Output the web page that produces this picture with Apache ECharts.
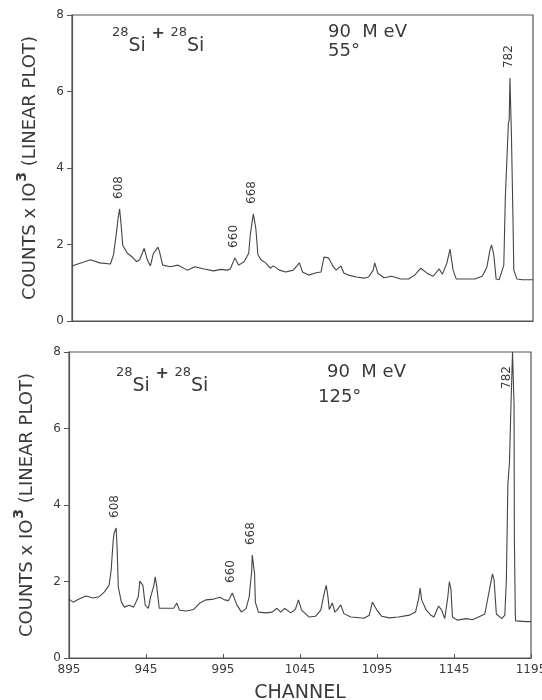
<!DOCTYPE html>
<html>
<head>
<meta charset="utf-8">
<script src="https://cdn.jsdelivr.net/npm/echarts@6/dist/echarts.min.js"></script>
<style>
  html, body { margin: 0; padding: 0; background: #fff; }
  #main { width: 542px; height: 700px; }
</style>
</head>
<body>
<div id="main"></div>
<script>
// gamma spectra, 28Si + 28Si at 90 MeV, counts in thousands
const TOP_CH = [895, 907, 913, 920, 922, 924, 925, 926, 927, 928, 931, 934, 937, 939, 942, 944, 946, 948, 951, 952, 954, 959, 964, 970, 975, 981, 987, 992, 996,
  998, 1001, 1003.5, 1007, 1010, 1011, 1013, 1014.6, 1016, 1018, 1021, 1024, 1026, 1030, 1034, 1039, 1043, 1045, 1049, 1054, 1057, 1059, 1062, 1065, 1067, 1070, 1072, 1075, 1080, 1085, 1088, 1091, 1092, 1094, 1098,
  1103, 1109, 1114, 1118, 1122, 1126, 1130, 1134, 1136, 1139, 1141, 1142, 1143, 1145, 1151, 1157, 1162, 1165, 1167, 1168, 1169.5, 1171, 1173, 1176, 1177, 1179, 1179.5, 1180, 1181, 1182, 1182.5, 1184.5, 1188, 1195]
const TOP_CNT = [1.44, 1.6, 1.52, 1.49, 1.73, 2.33, 2.69, 2.93, 2.5, 1.98, 1.77, 1.68, 1.55, 1.6, 1.9, 1.6, 1.44, 1.77, 1.93, 1.8, 1.46, 1.42, 1.46, 1.33, 1.42, 1.36, 1.31, 1.35, 1.33,
  1.36, 1.65, 1.46, 1.55, 1.77, 2.25, 2.8, 2.43, 1.73, 1.6, 1.52, 1.38, 1.44, 1.33, 1.28, 1.33, 1.52, 1.28, 1.2, 1.26, 1.28, 1.67, 1.65, 1.42, 1.33, 1.44, 1.25, 1.2, 1.15, 1.12, 1.15, 1.33, 1.52, 1.25, 1.13,
  1.17, 1.1, 1.1, 1.2, 1.38, 1.25, 1.17, 1.36, 1.22, 1.52, 1.88, 1.83, 1.33, 1.1, 1.1, 1.1, 1.17, 1.41, 1.86, 1.99, 1.73, 1.1, 1.08, 1.46, 3.24, 5.18, 5.26, 6.35, 4.8, 2.6, 1.33, 1.1, 1.08, 1.08]

const BOT_CH = [895, 897.6, 901.5, 906, 910.6, 914.5, 918, 921, 922.4, 923.7, 924.3, 925.6, 926.3, 927, 929, 931, 934, 937, 940, 941, 943, 944.5, 946.5, 948, 950, 951, 952, 953.6, 958, 963, 965, 966.7, 971, 976, 980, 984, 989, 993, 996,
  998.6, 1001, 1004, 1007, 1010, 1012, 1013.6, 1014, 1015.5, 1016, 1018, 1023, 1027, 1030, 1032.5, 1035, 1039, 1042, 1044, 1046, 1051, 1055, 1058.5, 1060.5, 1062, 1063, 1064, 1066, 1067.6, 1069, 1071.5, 1073.5, 1078, 1082, 1086.5, 1090, 1092, 1095, 1098,
  1103, 1109, 1116, 1120, 1122, 1123, 1124, 1127, 1130, 1132, 1135, 1137, 1139, 1141, 1142, 1143, 1144, 1147, 1153, 1157, 1161, 1165, 1168, 1170, 1171, 1172.5, 1176, 1178, 1179, 1180, 1181, 1182, 1183, 1184, 1184.2, 1184.5, 1184.8, 1185, 1192, 1195]
const BOT_CNT = [1.54, 1.46, 1.54, 1.62, 1.57, 1.6, 1.73, 1.9, 2.3, 3.08, 3.26, 3.4, 2.82, 1.86, 1.46, 1.33, 1.38, 1.33, 1.6, 2.01, 1.9, 1.38, 1.3, 1.6, 1.88, 2.12, 1.86, 1.3, 1.3, 1.3, 1.44, 1.25, 1.23, 1.27, 1.44, 1.52, 1.54, 1.59, 1.52,
  1.5, 1.7, 1.39, 1.2, 1.29, 1.6, 2.25, 2.69, 2.2, 1.46, 1.2, 1.18, 1.2, 1.3, 1.2, 1.3, 1.18, 1.27, 1.52, 1.25, 1.07, 1.09, 1.25, 1.65, 1.9, 1.65, 1.27, 1.44, 1.2, 1.25, 1.39, 1.16, 1.07, 1.06, 1.04, 1.12, 1.46, 1.25, 1.09,
  1.05, 1.07, 1.12, 1.2, 1.54, 1.83, 1.52, 1.25, 1.12, 1.07, 1.36, 1.25, 1.03, 1.6, 2.0, 1.8, 1.07, 0.99, 1.03, 1.0, 1.07, 1.15, 1.78, 2.2, 2.05, 1.15, 1.03, 1.12, 2.04, 4.56, 5.1, 6.6, 8, 6.6, 3.14, 3.1, 1.17, 0.97, 0.95, 0.95]

// peak labels (energies in keV)
const PEAK_NAMES = ['608', '660', '668', '782']
const TOP_PEAK_CH = [926, 1001, 1013, 1180]
const TOP_PEAK_CNT = [2.93, 1.65, 2.8, 6.35]
const BOT_PEAK_CH = [925.6, 1001, 1014, 1183]
const BOT_PEAK_CNT = [3.4, 1.7, 2.69, 8]

const X_TICKS = [895, 945, 995, 1045, 1095, 1145, 1195]
const Y_TICKS = [0, 2, 4, 6, 8]

const FONT = 'DejaVu Sans'
const INK = '#3a3a3a'

function pairs(xs, ys) {
    return xs.map((x, i) => [x, ys[i]])
}

const myChart = echarts.init(document.querySelector('#main'))

const yTitle = {
    formatter: '{a|COUNTS x IO}{s|3}{a| (LINEAR PLOT)}',
    rich: {
        a: { fontFamily: FONT, fontSize: 18, color: INK, verticalAlign: 'bottom' },
        s: { fontFamily: FONT, fontSize: 14, fontWeight: 'bold', color: INK, verticalAlign: 'top', padding: [0, 0, 10, 1] }
    }
}

function yAxisFor(idx) {
    return {
        gridIndex: idx,
        type: 'value',
        min: 0,
        max: 8,
        interval: 2,
        name: yTitle.formatter,
        nameLocation: 'middle',
        nameGap: 33,
        nameRotate: 90,
        nameTextStyle: { rich: yTitle.rich },
        axisLine: { show: true, lineStyle: { color: '#555', width: 1.2 } },
        axisTick: { show: true, inside: false, length: 5, lineStyle: { color: '#555' } },
        axisLabel: { margin: 8, fontFamily: FONT, fontSize: 12, color: INK,
            customValues: Y_TICKS },
        splitLine: { show: false }
    }
}

const option = {
    backgroundColor: '#fff',
    animation: false,
    grid: [
        { left: 72, right: 9, top: 15, height: 306, show: true, borderColor: '#555', borderWidth: 1.2, outerBoundsMode: 'none' },
        { left: 69, right: 11, top: 352, height: 306, show: true, borderColor: '#555', borderWidth: 1.2, outerBoundsMode: 'none' }
    ],
    xAxis: [
        {
            gridIndex: 0, type: 'value', min: 895, max: 1195,
            axisLine: { show: true, lineStyle: { color: '#555', width: 1.2 } },
            axisTick: { show: false }, axisLabel: { show: false }, splitLine: { show: false }
        },
        {
            gridIndex: 1, type: 'value', min: 895, max: 1195,
            name: 'CHANNEL', nameLocation: 'middle', nameGap: 26,
            nameTextStyle: { fontFamily: FONT, fontSize: 19, color: INK },
            axisLine: { show: true, lineStyle: { color: '#555', width: 1.2 } },
            axisTick: { show: true, inside: true, length: 4, customValues: X_TICKS, lineStyle: { color: '#555' } },
            axisLabel: { margin: 6, fontFamily: FONT, fontSize: 12, color: INK, customValues: X_TICKS,
                formatter: v => String(v) },
            splitLine: { show: false }
        }
    ],
    yAxis: [yAxisFor(0), yAxisFor(1)],
    series: [
        {
            type: 'line', xAxisIndex: 0, yAxisIndex: 0,
            data: pairs(TOP_CH, TOP_CNT),
            showSymbol: false,
            lineStyle: { color: '#444', width: 1.1 }
        },
        {
            type: 'line', xAxisIndex: 1, yAxisIndex: 1,
            data: pairs(BOT_CH, BOT_CNT),
            showSymbol: false,
            clip: true,
            lineStyle: { color: '#444', width: 1.1 }
        }
    ]
}
myChart.setOption(option)

// reaction / energy / angle texts
function reaction(x, y) {
    return {
        type: 'text', x: x, y: y,
        style: {
            text: '{s|28}{b|Si}{p| + }{s|28}{b|Si}',
            rich: {
                s: { fontFamily: FONT, fontSize: 13, fill: INK, verticalAlign: 'top', padding: [0, 0, 14, 0] },
                b: { fontFamily: FONT, fontSize: 19, fill: INK, verticalAlign: 'bottom' },
                p: { fontFamily: FONT, fontSize: 16, fontWeight: 'bold', fill: INK, verticalAlign: 'top', padding: [0, 0, 14, 0] }
            }
        }
    }
}
function plain(x, y, text) {
    return {
        type: 'text', x: x, y: y,
        style: { text: text, fontFamily: FONT, fontSize: 18, fill: INK, textVerticalAlign: 'middle' }
    }
}

// rotated peak labels sitting above each peak
function peakLabels(gridIndex, chs, cnts) {
    return PEAK_NAMES.map((name, i) => {
        const p = myChart.convertToPixel({ gridIndex: gridIndex }, [chs[i], cnts[i]])
        let x = p[0] - 1, y = p[1] - 10
        if (cnts[i] >= 8) {
            x = p[0] - 6
            y = p[1] + 37
        }
        return {
            type: 'text', x: x, y: y, rotation: Math.PI / 2,
            style: { text: name, fontFamily: FONT, fontSize: 12, fill: INK, textAlign: 'left', textVerticalAlign: 'middle' }
        }
    })
}

myChart.setOption({
    graphic: [
        reaction(112, 26),
        plain(328, 32, '90  M eV'),
        plain(328, 51, '55°'),
        reaction(116, 366),
        plain(327, 372, '90  M eV'),
        plain(318, 397, '125°')
    ].concat(peakLabels(0, TOP_PEAK_CH, TOP_PEAK_CNT), peakLabels(1, BOT_PEAK_CH, BOT_PEAK_CNT))
})
</script>
</body>
</html>
